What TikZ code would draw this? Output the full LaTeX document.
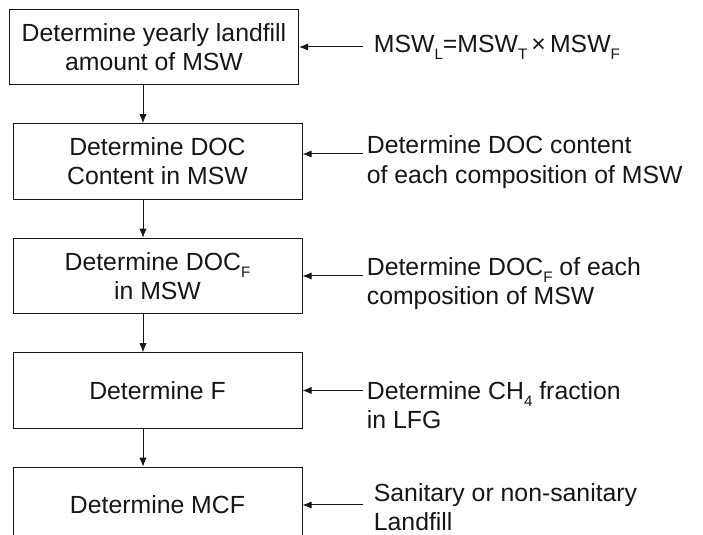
\documentclass[tikz,border=0pt]{standalone}
\usepackage{fontspec}
\setmainfont{Liberation Sans}
\usetikzlibrary{arrows.meta,positioning}
\definecolor{fcInk}{HTML}{161616}
\newcommand{\fcfont}{\fontsize{12.4}{14.6}\selectfont}
\newcommand{\lowsub}[1]{\raisebox{-0.55ex}{\fontsize{7.6}{8}\selectfont #1}}
\tikzset{
  stepbox/.style={draw=fcInk, line width=0.5pt, minimum width=144.5pt, minimum height=37.75pt, inner sep=2pt, align=center, font=\fcfont, text=fcInk},
  note/.style={inner sep=2pt, align=left, font=\fcfont, text=fcInk},
  arr/.style={-{Latex[length=4.5pt,width=3.6pt]}, line width=0.5pt, draw=fcInk},
}
\begin{document}
\begin{tikzpicture}[node distance=19pt]
  \useasboundingbox (0,0) rectangle (351.5pt,-267.5pt);
  % main steps
  \node[stepbox] (b1) at (77pt,-23.5pt) {Determine yearly landfill\\amount of MSW};
  \node[stepbox, below=of b1, xshift=1.75pt] (b2) {Determine DOC\\Content in MSW};
  \node[stepbox, below=of b2] (b3) {Determine DOC\lowsub{F}\\in MSW};
  \node[stepbox, below=of b3] (b4) {Determine F};
  \node[stepbox, below=of b4] (b5) {Determine MCF};
  % inputs on the right
  \node[note, inner xsep=5.5pt, right=31.75pt of b1] (t1) {MSW\lowsub{L}=MSW\lowsub{T}\,×\,MSW\lowsub{F}};
  \node[note, right=30pt of b2, yshift=-0.25pt] (t2) {Determine DOC content\\of each composition of MSW};
  \node[note, right=30pt of b3, yshift=-3.75pt] (t3) {Determine DOC\lowsub{F} of each\\composition of MSW};
  \node[note, right=30pt of b4, yshift=-7.5pt] (t4) {Determine CH\lowsub{4} fraction\\in LFG};
  \node[note, inner xsep=5.5pt, right=30pt of b5, yshift=-1pt] (t5) {Sanitary or non-sanitary\\Landfill};
  % connectors
  \coordinate (ax) at ([xshift=-7.25pt]b2.north);
  \draw[arr] (b1.south -| ax) -- (ax);
  \foreach \i/\j in {2/3,3/4,4/5}
    \draw[arr] ([xshift=-7.25pt]b\i.south) -- ([xshift=-7.25pt]b\j.north);
  \coordinate (e2) at ([yshift=3.75pt]b2.east);
  \draw[arr] (t1.west |- b1.east) -- (b1.east);
  \draw[arr] (t2.west |- e2) -- (e2);
  \draw[arr] (t3.west |- b3.east) -- (b3.east);
  \draw[arr] (t4.west |- b4.east) -- (b4.east);
  \draw[arr] (t5.west |- b5.east) -- (b5.east);
\end{tikzpicture}
\end{document}
